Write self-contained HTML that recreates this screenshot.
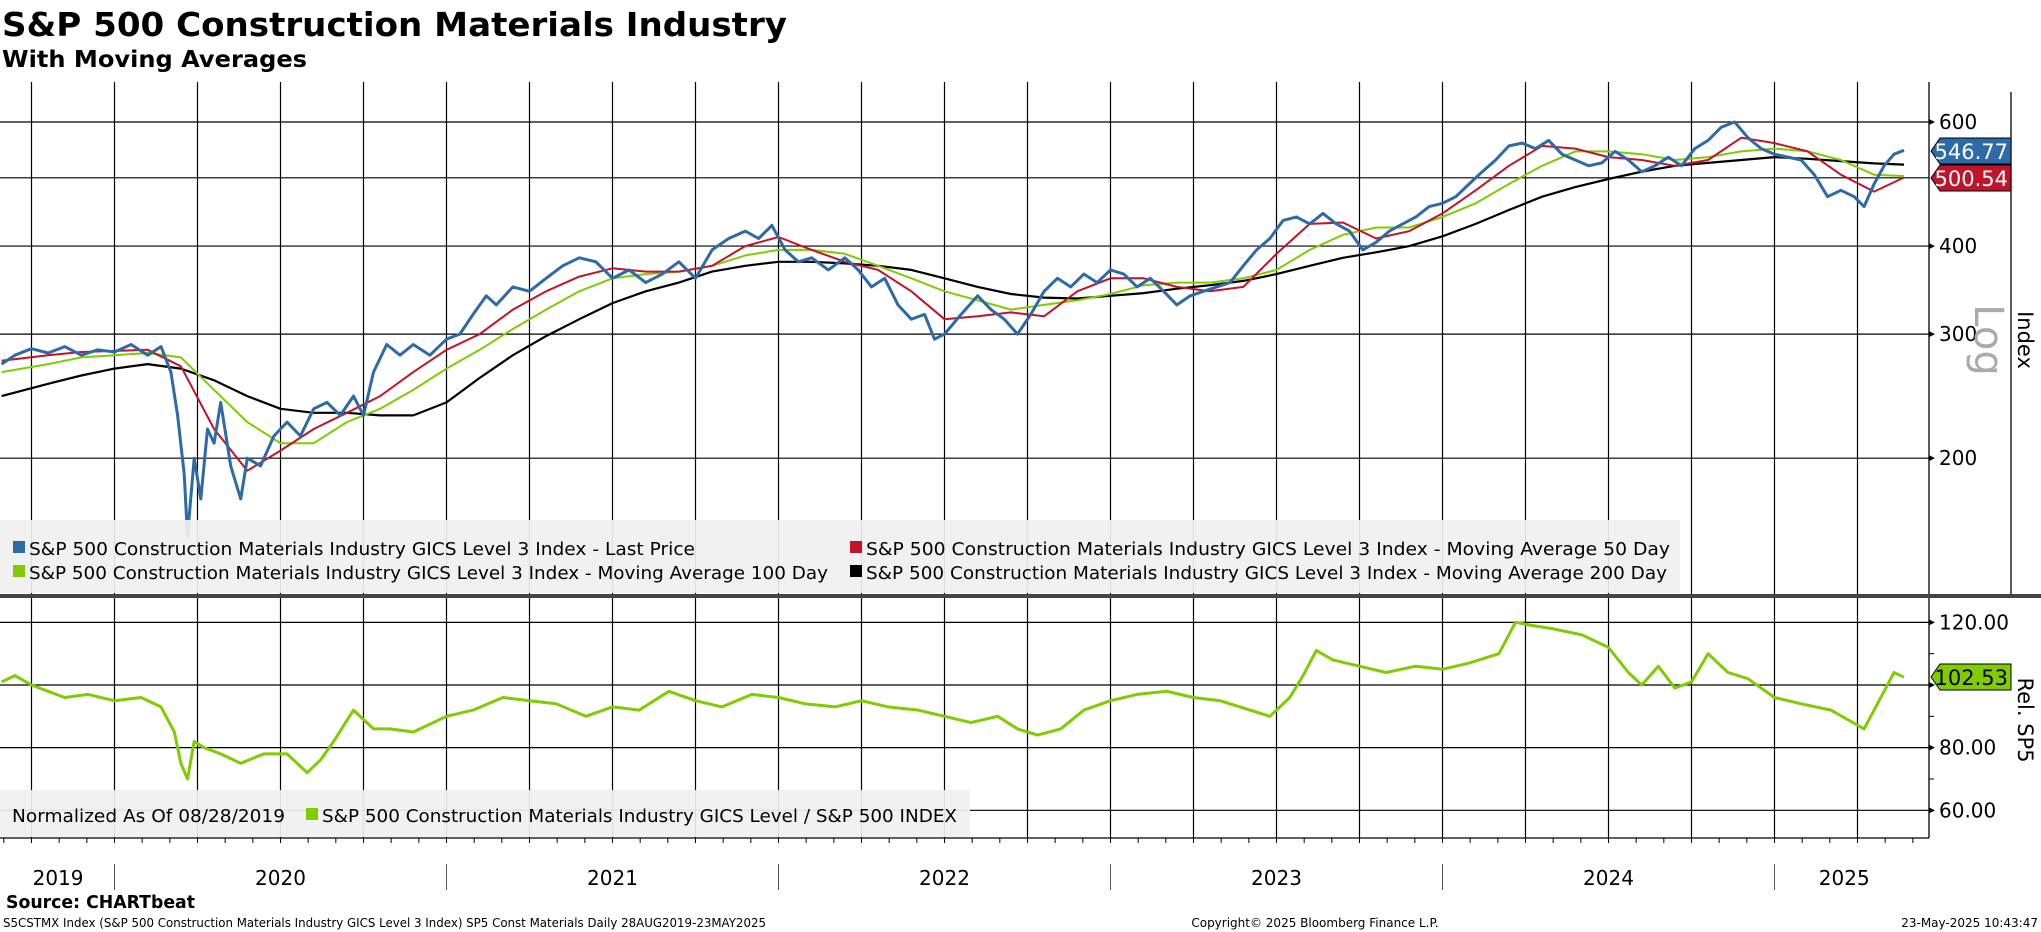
<!DOCTYPE html>
<html><head><meta charset="utf-8"><style>
html,body{margin:0;padding:0;background:#fff;}
svg{display:block;font-family:"DejaVu Sans","Liberation Sans",sans-serif;}
</style></head><body>
<svg id="chart" width="2041" height="932" viewBox="0 0 2041 932" xmlns="http://www.w3.org/2000/svg">
<text x="2" y="36" font-size="33" font-weight="bold" textLength="785" lengthAdjust="spacingAndGlyphs">S&amp;P 500 Construction Materials Industry</text>
<text x="2" y="67" font-size="23" font-weight="bold" textLength="305" lengthAdjust="spacingAndGlyphs">With Moving Averages</text>
<g id="grid"></g>
<defs>
<clipPath id="clipTop"><rect x="0" y="82" width="1929" height="514"/></clipPath>
<clipPath id="clipBot"><rect x="0" y="598" width="1929" height="240"/></clipPath>
</defs>
<g id="series" clip-path="url(#clipTop)"></g>
<g id="relseries" clip-path="url(#clipBot)"></g>
<g id="axes"></g>
<g>
<rect x="0" y="520" width="1680" height="73" fill="#f0f0f0" fill-opacity="0.92"/>
<rect x="13" y="541" width="12" height="12" fill="#2e6aa8"/>
<text x="29" y="555" font-size="18" textLength="666" lengthAdjust="spacingAndGlyphs">S&amp;P 500 Construction Materials Industry GICS Level 3 Index - Last Price</text>
<rect x="13" y="565" width="12" height="12" fill="#7fcc00"/>
<text x="29" y="579" font-size="18" textLength="799" lengthAdjust="spacingAndGlyphs">S&amp;P 500 Construction Materials Industry GICS Level 3 Index - Moving Average 100 Day</text>
<rect x="850" y="541" width="12" height="12" fill="#c0142c"/>
<text x="866" y="555" font-size="18" textLength="804" lengthAdjust="spacingAndGlyphs">S&amp;P 500 Construction Materials Industry GICS Level 3 Index - Moving Average 50 Day</text>
<rect x="850" y="565" width="12" height="12" fill="#000"/>
<text x="866" y="579" font-size="18" textLength="801" lengthAdjust="spacingAndGlyphs">S&amp;P 500 Construction Materials Industry GICS Level 3 Index - Moving Average 200 Day</text>
</g>
<rect x="0" y="594" width="2041" height="4" fill="#444"/>
<g>
<rect x="0" y="790" width="970" height="47" fill="#f0f0f0" fill-opacity="0.92"/>
<text x="12" y="822" font-size="18" textLength="273" lengthAdjust="spacingAndGlyphs">Normalized As Of 08/28/2019</text>
<rect x="306" y="808" width="12" height="12" fill="#7fcc00"/>
<text x="322" y="822" font-size="18" textLength="635" lengthAdjust="spacingAndGlyphs">S&amp;P 500 Construction Materials Industry GICS Level / S&amp;P 500 INDEX</text>
</g>
<text transform="translate(1975,340) rotate(90)" text-anchor="middle" font-size="40" fill="#aaa">Log</text>
<text transform="translate(2018,340) rotate(90)" text-anchor="middle" font-size="21">Index</text>
<text transform="translate(2018,720) rotate(90)" text-anchor="middle" font-size="21">Rel. SP5</text>
<text x="6" y="908" font-size="18" font-weight="bold" textLength="189" lengthAdjust="spacingAndGlyphs">Source: CHARTbeat</text>
<text x="3" y="927" font-size="12" textLength="763" lengthAdjust="spacingAndGlyphs">S5CSTMX Index (S&amp;P 500 Construction Materials Industry GICS Level 3 Index) SP5 Const Materials  Daily 28AUG2019-23MAY2025</text>
<text x="1315" y="927" font-size="12" text-anchor="middle">Copyright© 2025 Bloomberg Finance L.P.</text>
<text x="2038" y="927" font-size="12" text-anchor="end">23-May-2025 10:43:47</text>
</svg>
<script>
const priceDates=[2019.66,2019.70,2019.75,2019.80,2019.85,2019.90,2019.95,2020.00,2020.05,2020.10,2020.14,2020.17,2020.19,2020.21,2020.22,2020.24,2020.26,2020.28,2020.30,2020.32,2020.35,2020.38,2020.40,2020.44,2020.48,2020.52,2020.56,2020.60,2020.64,2020.68,2020.72,2020.75,2020.78,2020.82,2020.86,2020.90,2020.95,2021.00,2021.04,2021.08,2021.12,2021.15,2021.20,2021.25,2021.30,2021.35,2021.40,2021.45,2021.50,2021.55,2021.60,2021.65,2021.70,2021.75,2021.80,2021.85,2021.90,2021.94,2021.98,2022.02,2022.06,2022.10,2022.15,2022.20,2022.24,2022.28,2022.32,2022.36,2022.40,2022.44,2022.47,2022.50,2022.55,2022.60,2022.64,2022.68,2022.72,2022.76,2022.80,2022.84,2022.88,2022.92,2022.96,2023.00,2023.04,2023.08,2023.12,2023.16,2023.20,2023.24,2023.28,2023.32,2023.36,2023.40,2023.44,2023.48,2023.52,2023.56,2023.60,2023.64,2023.68,2023.72,2023.76,2023.80,2023.84,2023.88,2023.92,2023.96,2024.00,2024.04,2024.08,2024.12,2024.16,2024.20,2024.24,2024.28,2024.32,2024.36,2024.40,2024.44,2024.48,2024.52,2024.56,2024.60,2024.64,2024.68,2024.72,2024.76,2024.80,2024.84,2024.88,2024.92,2024.96,2025.00,2025.04,2025.08,2025.12,2025.16,2025.20,2025.24,2025.27,2025.30,2025.33,2025.36,2025.39];
const priceValues=[272,280,286,282,288,280,285,283,290,280,288,265,230,190,155,200,175,220,210,240,195,175,200,195,215,225,215,235,240,230,245,230,265,290,280,290,280,295,300,320,340,330,350,345,360,375,385,380,360,370,355,365,380,360,395,410,420,410,428,395,380,385,370,385,370,350,360,330,315,320,295,300,320,340,325,315,300,320,345,360,350,365,355,370,365,350,360,345,330,340,345,350,355,375,395,410,435,440,430,445,430,420,395,405,420,430,440,455,460,470,490,510,530,555,560,550,565,540,530,520,525,545,530,510,520,535,520,550,565,590,600,570,550,540,535,530,505,470,480,470,455,490,520,540,547];
const maDates=[2019.66,2019.8,2019.9,2020.0,2020.1,2020.2,2020.3,2020.4,2020.5,2020.6,2020.7,2020.8,2020.9,2021.0,2021.1,2021.2,2021.3,2021.4,2021.5,2021.6,2021.7,2021.8,2021.9,2022.0,2022.1,2022.2,2022.3,2022.4,2022.5,2022.6,2022.7,2022.8,2022.9,2023.0,2023.1,2023.2,2023.3,2023.4,2023.5,2023.6,2023.7,2023.8,2023.9,2024.0,2024.1,2024.2,2024.3,2024.4,2024.5,2024.6,2024.7,2024.8,2024.9,2025.0,2025.1,2025.2,2025.3,2025.39];
const ma50Values=[275,280,283,284,285,270,220,192,205,220,232,245,265,285,300,325,345,362,372,368,368,375,400,412,395,380,370,345,315,318,322,318,345,360,360,350,345,350,390,430,432,410,420,445,480,520,555,550,535,530,520,530,570,560,545,505,478,500.54];
const ma100Values=[265,272,278,280,282,278,250,225,210,210,225,235,250,268,285,305,325,345,360,365,368,375,388,395,395,390,375,360,345,335,325,330,335,342,352,355,355,360,370,395,415,425,425,440,460,490,520,545,545,540,530,535,545,550,545,530,505,503];
const ma200Values=[245,255,262,268,272,268,258,245,235,232,232,230,230,240,260,280,298,315,332,345,355,368,375,380,380,378,375,370,360,350,342,338,337,340,343,348,352,357,365,375,385,392,400,413,430,450,470,485,498,510,520,525,530,535,532,528,524,522];
const relDates=[2019.66,2019.70,2019.75,2019.80,2019.85,2019.92,2020.00,2020.08,2020.14,2020.18,2020.20,2020.22,2020.24,2020.27,2020.32,2020.38,2020.45,2020.52,2020.58,2020.62,2020.66,2020.72,2020.78,2020.83,2020.90,2021.00,2021.08,2021.17,2021.25,2021.33,2021.42,2021.50,2021.58,2021.67,2021.75,2021.83,2021.92,2022.00,2022.08,2022.17,2022.25,2022.33,2022.42,2022.50,2022.58,2022.66,2022.72,2022.78,2022.85,2022.92,2023.00,2023.08,2023.17,2023.25,2023.33,2023.42,2023.48,2023.54,2023.58,2023.62,2023.67,2023.75,2023.83,2023.92,2024.00,2024.08,2024.17,2024.22,2024.27,2024.33,2024.42,2024.50,2024.56,2024.60,2024.65,2024.70,2024.75,2024.80,2024.86,2024.92,2025.00,2025.08,2025.17,2025.22,2025.27,2025.30,2025.33,2025.36,2025.39];
const relValues=[101,103,100,98,96,97,95,96,93,85,75,70,82,80,78,75,78,78,72,76,82,92,86,86,85,90,92,96,95,94,90,93,92,98,95,93,97,96,94,93,95,93,92,90,88,90,86,84,86,92,95,97,98,96,95,92,90,96,103,111,108,106,104,106,105,107,110,120,119,118,116,112,104,100,106,99,101,110,104,102,96,94,92,89,86,92,98,104,102.5];
const priceTicks=[600,400,300,200];
const relTicks=[120,80,60];
const yearLabels=["2019","2020","2021","2022","2023","2024","2025"];
const yearLabelPos=[2019.83,2020.5,2021.5,2022.5,2023.5,2024.5,2025.21];
const lastPrice=546.77, lastMa50=500.54, lastRel=102.53;

const NS="http://www.w3.org/2000/svg";
const X0=114.5, PX_YEAR=332, RIGHT=1929;
function xs(t){return X0+(t-2020)*PX_YEAR;}
function yp(p){return 122+Math.log(600/p)*306;}
function yr(v){return 685-(v-100)*3.133;}
function mk(tag,attrs,parent){const e=document.createElementNS(NS,tag);for(const k in attrs)e.setAttribute(k,attrs[k]);parent.appendChild(e);return e;}
const grid=document.getElementById('grid'), axes=document.getElementById('axes');
const series=document.getElementById('series'), relseries=document.getElementById('relseries');

// vertical quarterly gridlines
for(let q=2019.75;q<2025.5;q+=0.25){const x=xs(q);
 const l1=mk('line',{x1:x,y1:82,x2:x,y2:596,stroke:'#000','stroke-width':1.2},grid);
 
 
 const l2=mk('line',{x1:x,y1:598,x2:x,y2:838,stroke:'#000','stroke-width':1.2},grid);
 
 
}
// horizontal gridlines and tick labels
priceTicks.forEach(v=>{const y=yp(v);
 const l=mk('line',{x1:0,y1:y,x2:RIGHT,y2:y,stroke:'#000','stroke-width':1.2},grid);
 
 
 mk('path',{d:`M${RIGHT},${y-3}L${RIGHT+6},${y}L${RIGHT},${y+3}Z`,fill:'#000'},axes);
 const t=mk('text',{x:RIGHT+10,y:y+7,'font-size':20},axes);t.textContent=v;
 
 
});
[500].forEach(v=>{const y=yp(v);mk('line',{x1:0,y1:y,x2:RIGHT,y2:y,stroke:'#000','stroke-width':1.2},grid);});
[120,100,80,60].forEach(v=>{const y=yr(v);
 const l=mk('line',{x1:0,y1:y,x2:RIGHT,y2:y,stroke:'#000','stroke-width':1.2},grid);
 
 
 mk('path',{d:`M${RIGHT},${y-3}L${RIGHT+6},${y}L${RIGHT},${y+3}Z`,fill:'#000'},axes);
});
relTicks.forEach(v=>{const y=yr(v);
 const t=mk('text',{x:RIGHT+10,y:y+7,'font-size':20},axes);t.textContent=v.toFixed(2);
 
 
});
[110,90,70].forEach(v=>{const y=yr(v);mk('line',{x1:RIGHT,y1:y,x2:RIGHT+5,y2:y,stroke:'#000'},axes);});
// axis frame
mk('line',{x1:RIGHT,y1:82,x2:RIGHT,y2:838,stroke:'#000','stroke-width':1.3},axes);
mk('line',{x1:2011,y1:92,x2:2011,y2:596,stroke:'#000','stroke-width':1.3},axes);
mk('line',{x1:0,y1:838,x2:RIGHT,y2:838,stroke:'#000','stroke-width':1.3},axes);
// month ticks
for(let m=0;m<72;m++){const t=2019+8/12+m/12;const x=xs(t);if(x>RIGHT)break;
 mk('line',{x1:x,y1:838,x2:x,y2:843,stroke:'#000'},axes);}
for(let yv=2020;yv<=2025;yv++){const x=xs(yv);mk('line',{x1:x,y1:864,x2:x,y2:890,stroke:'#555'},axes);}
yearLabels.forEach((lab,i)=>{const t=mk('text',{x:xs(yearLabelPos[i]),y:885,'font-size':20,'text-anchor':'middle'},axes);t.textContent=lab;
 
 
});

function poly(dates,vals,yf,color,w,parent,name){
 const pts=dates.map((d,i)=>xs(d).toFixed(1)+','+yf(vals[i]).toFixed(1)).join(' ');
 const p=mk('polyline',{points:pts,fill:'none',stroke:color,'stroke-width':w,'stroke-linejoin':'round'},parent);
 
 
}
poly(maDates,ma200Values,yp,'#000',2.2,series,'ma200-line');
poly(maDates,ma100Values,yp,'#7fcc00',2,series,'ma100-line');
poly(maDates,ma50Values,yp,'#c0142c',2,series,'ma50-line');
poly(priceDates,priceValues,yp,'#2e6aa8',3,series,'last-price-line');
poly(relDates,relValues,yr,'#7fcc00',3,relseries,'rel-sp5-line');

function tag(v,y,fill,tc,name,txt){
 const g=mk('g',{},axes);
 
 
 mk('path',{d:`M1931,${y}L1940,${y-13}L2011,${y-13}L2011,${y+13}L1940,${y+13}Z`,fill:fill,stroke:'#000','stroke-width':1},g);
 const t=mk('text',{x:2008,y:y+8,'font-size':21,'text-anchor':'end',fill:tc},g);t.textContent=txt;
}
tag(lastPrice,151,'#2e6aa8','#fff','last-price-tag',lastPrice.toFixed(2));
tag(lastMa50,178,'#c0142c','#fff','ma50-tag',lastMa50.toFixed(2));
tag(lastRel,677,'#7fcc00','#000','rel-tag',lastRel.toFixed(2));
</script>
</body></html>
